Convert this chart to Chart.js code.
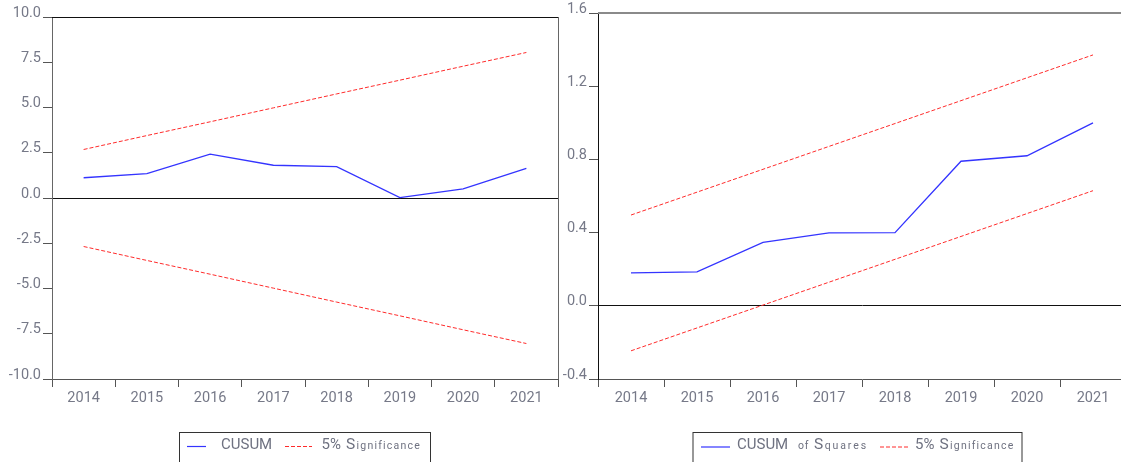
<!DOCTYPE html>
<html>
<head>
<meta charset="utf-8">
<script src="https://cdn.jsdelivr.net/npm/chart.js@4/dist/chart.umd.min.js"></script>
<style>
html,body{margin:0;padding:0;background:#fff;overflow:hidden;width:1121px;height:462px;}
#wrap{position:relative;width:1121px;height:462px;overflow:hidden;}
canvas{position:absolute;top:0;}
#c1{left:0;}
#c2{left:560px;}
</style>
</head>
<body>
<div id="wrap">
<canvas id="c1" width="560" height="462"></canvas>
<canvas id="c2" width="580" height="462"></canvas>
</div>
<script>
// ---- data ----
const years = ['2014','2015','2016','2017','2018','2019','2020','2021'];
const cusum = [1.12, 1.35, 2.42, 1.81, 1.73, 0.02, 0.50, 1.64];
const cusumUpper = [2.68, 3.45, 4.21, 4.98, 5.75, 6.51, 7.28, 8.04];
const cusumLower = [-2.68, -3.45, -4.21, -4.98, -5.75, -6.51, -7.28, -8.04];
const cusumSq = [0.18, 0.185, 0.347, 0.398, 0.40, 0.79, 0.82, 1.00];
const cusumSqUpper = [0.496, 0.621, 0.746, 0.871, 0.996, 1.121, 1.246, 1.371];
const cusumSqLower = [-0.246, -0.121, 0.004, 0.129, 0.254, 0.379, 0.504, 0.629];
const leftTicks = {min: -10, max: 10, step: 2.5};
const rightTicks = {min: -0.4, max: 1.6, step: 0.4};

const FONT = 'Roboto';
const TICK_COLOR = '#767988';
const BLUE = '#3434ff';
const RED = '#ff2b2b';

function spaced(ctx, text, x, y, sp) {
  for (const ch of text) {
    ctx.fillText(ch, x, y);
    x += ctx.measureText(ch).width + sp;
  }
  return x - sp;
}

function legendPlugin(pieces) {
  return {
    id: 'customLegend',
    afterDraw(chart) {
      const ctx = chart.ctx;
      ctx.save();
      ctx.strokeStyle = '#333';
      ctx.lineWidth = 1;
      ctx.setLineDash([]);
      const b = pieces.box;
      ctx.strokeRect(b.x + 0.5, b.y + 0.5, b.w, 60);
      ctx.strokeStyle = BLUE; ctx.lineWidth = 1.2;
      ctx.beginPath(); ctx.moveTo(pieces.blue[0], pieces.lineY); ctx.lineTo(pieces.blue[1], pieces.lineY); ctx.stroke();
      ctx.strokeStyle = RED; ctx.lineWidth = 1; ctx.setLineDash([4, 2]);
      ctx.beginPath(); ctx.moveTo(pieces.red[0], pieces.lineY); ctx.lineTo(pieces.red[1], pieces.lineY); ctx.stroke();
      ctx.setLineDash([]);
      ctx.fillStyle = '#6e7180';
      ctx.textBaseline = 'alphabetic';
      let x = 0;
      for (const t of pieces.texts) {
        ctx.font = t.size + 'px ' + FONT;
        if (t.x !== undefined) x = t.x; else x += t.gap || 0;
        if (t.sp) x = spaced(ctx, t.s, x, pieces.base, t.sp);
        else { ctx.fillText(t.s, x, pieces.base); x += ctx.measureText(t.s).width; }
      }
      ctx.restore();
    }
  };
}

function framePlugin(kind) {
  return {
    id: 'frame',
    afterDraw(chart) {
      const a = chart.chartArea, ctx = chart.ctx;
      ctx.save();
      if (kind === 'left') {
        ctx.strokeStyle = '#111'; ctx.lineWidth = 1;
        ctx.beginPath(); ctx.moveTo(a.left, a.top + 0.5); ctx.lineTo(a.right, a.top + 0.5); ctx.stroke();
        ctx.strokeStyle = '#666';
        ctx.beginPath(); ctx.moveTo(a.right + 0.5, a.top); ctx.lineTo(a.right + 0.5, a.bottom); ctx.stroke();
      } else {
        ctx.strokeStyle = '#8a8a8a'; ctx.lineWidth = 2;
        ctx.beginPath(); ctx.moveTo(a.left, a.top); ctx.lineTo(a.right, a.top); ctx.stroke();
      }
      ctx.restore();
    }
  };
}

function makeChart(id, cfg) {
  const tickFont = {family: FONT, size: 14.5};
  return new Chart(document.getElementById(id), {
    type: 'line',
    data: {
      labels: years,
      datasets: [
        {label: 'upper', data: cfg.upper, borderColor: RED, borderWidth: 1, borderDash: [4, 2], pointRadius: 0, fill: false, tension: 0},
        {label: 'lower', data: cfg.lower, borderColor: RED, borderWidth: 1, borderDash: [4, 2], pointRadius: 0, fill: false, tension: 0},
        {label: 'main', data: cfg.main, borderColor: BLUE, borderWidth: 1.3, pointRadius: 0, fill: false, tension: 0}
      ]
    },
    options: {
      responsive: false,
      animation: false,
      events: [],
      layout: {padding: cfg.padding},
      plugins: {legend: {display: false}, tooltip: {enabled: false}},
      scales: {
        x: {
          type: 'category',
          offset: true,
          grid: {offset: true, drawOnChartArea: false, tickLength: 8, color: '#555', tickColor: '#555'},
          border: {color: '#555'},
          ticks: {font: tickFont, color: TICK_COLOR, padding: 3, maxRotation: 0, autoSkip: false},
          afterFit(s) { s.height = cfg.xHeight; }
        },
        y: {
          min: cfg.ticks.min, max: cfg.ticks.max,
          ticks: {
            stepSize: cfg.ticks.step,
            font: tickFont, color: TICK_COLOR, padding: 2, labelOffset: -4,
            callback: v => Number(v).toFixed(1)
          },
          grid: {
            color: c => (c.tick && Math.abs(c.tick.value) < 1e-9) ? '#111' : 'rgba(0,0,0,0)',
            tickColor: '#555', tickLength: 9, drawOnChartArea: true
          },
          border: {color: cfg.yBorder},
          afterFit(s) { s.width = cfg.yWidth; }
        }
      }
    },
    plugins: [framePlugin(cfg.kind), legendPlugin(cfg.legend)]
  });
}

makeChart('c1', {
  kind: 'left',
  main: cusum, upper: cusumUpper, lower: cusumLower, ticks: leftTicks,
  padding: {left: 0, top: 17, right: 2, bottom: 0},
  yWidth: 52, xHeight: 83, yBorder: '#666',
  legend: {
    box: {x: 179, y: 432, w: 251},
    lineY: 446.5, base: 449,
    blue: [187, 206], red: [285, 312],
    texts: [
      {s: 'CUSUM', x: 221, size: 15},
      {s: '5%', x: 321.5, size: 15},
      {s: 'S', gap: 5, size: 15.5},
      {s: 'ignificance', gap: 1.5, size: 10.5, sp: 1.2}
    ]
  }
});

makeChart('c2', {
  kind: 'right',
  main: cusumSq, upper: cusumSqUpper, lower: cusumSqLower, ticks: rightTicks,
  padding: {left: 0, top: 13, right: 14, bottom: 0},
  yWidth: 38, xHeight: 83, yBorder: '#111',
  legend: {
    box: {x: 132.5, y: 432, w: 329},
    lineY: 447, base: 449,
    blue: [141, 170], red: [320, 350],
    texts: [
      {s: 'CUSUM', x: 177, size: 15},
      {s: 'of', x: 238, size: 10.5, sp: 0.8},
      {s: 'S', x: 254, size: 15.5},
      {s: 'quares', gap: 1.5, size: 10.5, sp: 1.9},
      {s: '5%', x: 355, size: 15},
      {s: 'S', gap: 5, size: 15.5},
      {s: 'ignificance', gap: 1.5, size: 10.5, sp: 1.2}
    ]
  }
});
</script>
</body>
</html>
